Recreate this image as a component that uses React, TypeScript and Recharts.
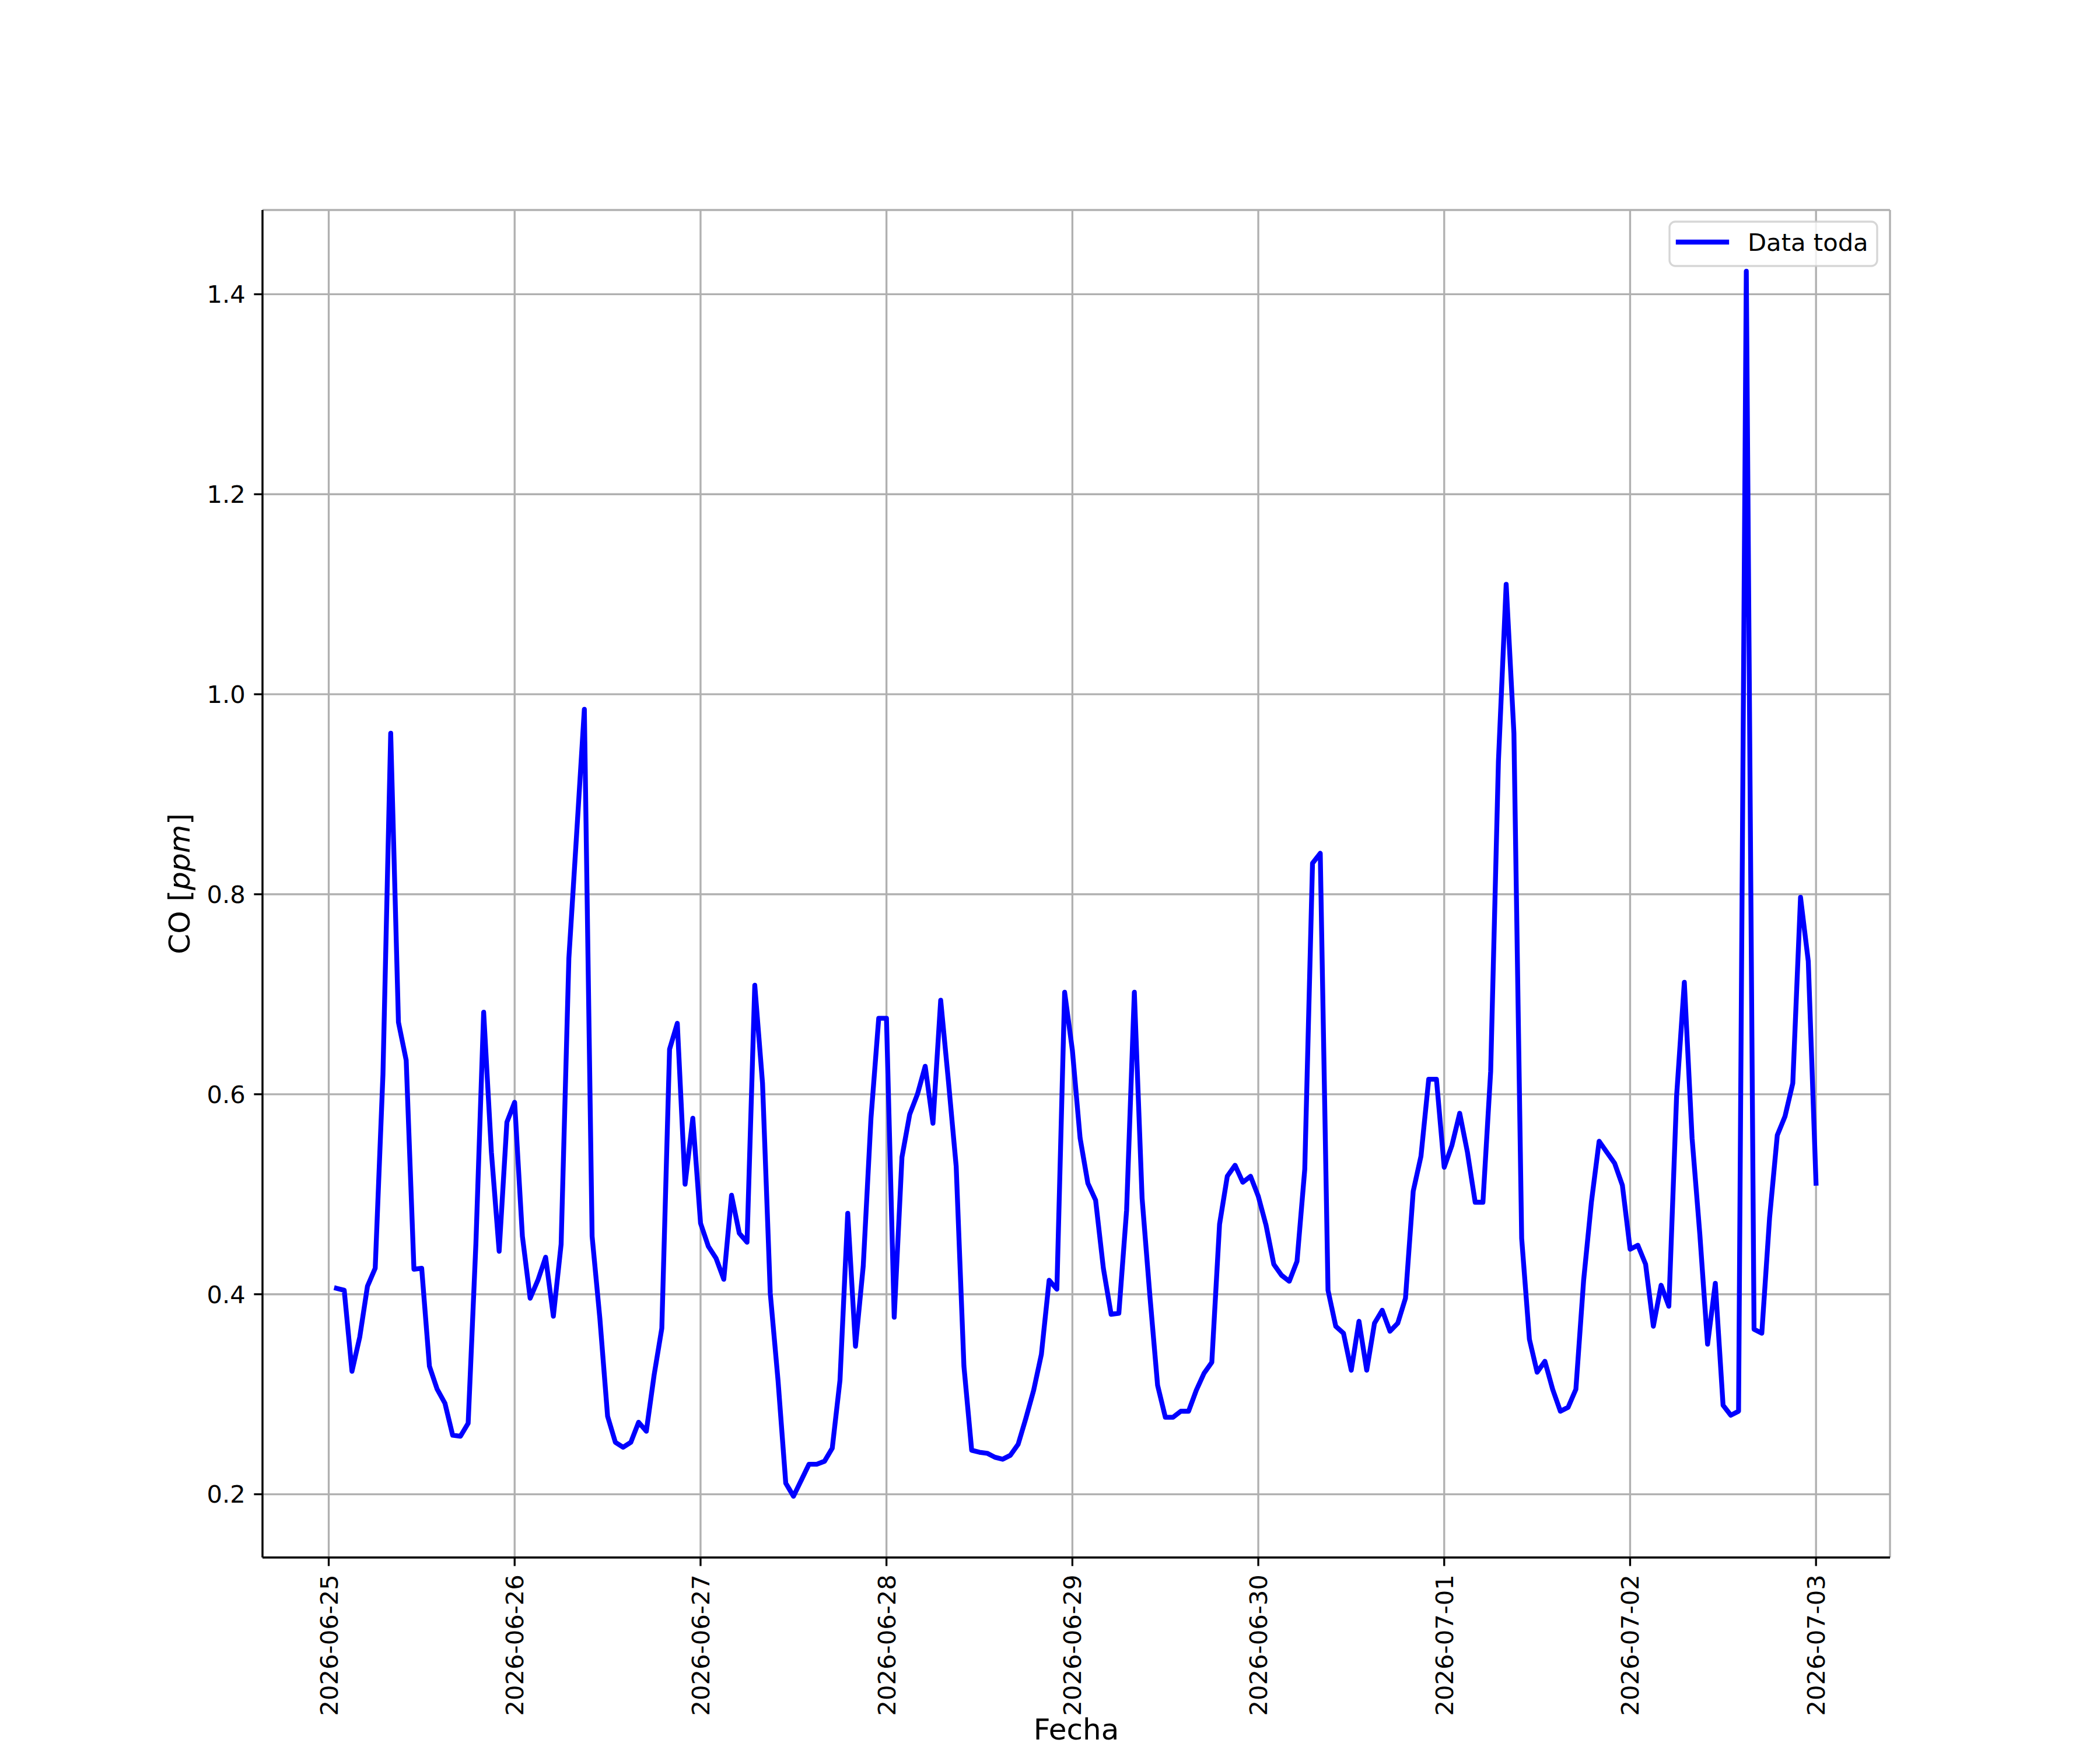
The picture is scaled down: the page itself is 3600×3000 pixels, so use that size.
import React from 'react';
import { LineChart, Line, XAxis, YAxis, CartesianGrid, Legend, Label } from 'recharts';

// hourly CO readings, one array per day (01:00 .. 24:00)
const day0625 = [0.406, 0.404, 0.323, 0.357, 0.408, 0.426, 0.62, 0.961, 0.672, 0.634, 0.425, 0.426, 0.328, 0.305, 0.291, 0.259, 0.258, 0.271, 0.451, 0.682, 0.542, 0.443, 0.572, 0.592];
const day0626 = [0.458, 0.396, 0.414, 0.437, 0.378, 0.45, 0.736, 0.86, 0.985, 0.458, 0.376, 0.278, 0.252, 0.247, 0.252, 0.272, 0.263, 0.319, 0.366, 0.645, 0.671, 0.51, 0.576, 0.471];
const day0627 = [0.448, 0.436, 0.415, 0.499, 0.461, 0.452, 0.709, 0.611, 0.401, 0.314, 0.211, 0.198, 0.214, 0.23, 0.23, 0.233, 0.246, 0.314, 0.481, 0.348, 0.428, 0.576, 0.676, 0.676];
const day0628 = [0.377, 0.537, 0.58, 0.6, 0.628, 0.571, 0.694, 0.613, 0.528, 0.328, 0.244, 0.242, 0.241, 0.237, 0.235, 0.239, 0.25, 0.276, 0.304, 0.34, 0.414, 0.405, 0.702, 0.644];
const day0629 = [0.556, 0.511, 0.494, 0.426, 0.38, 0.381, 0.484, 0.702, 0.496, 0.399, 0.309, 0.277, 0.277, 0.283, 0.283, 0.304, 0.321, 0.332, 0.47, 0.518, 0.529, 0.512, 0.518, 0.498];
const day0630 = [0.469, 0.43, 0.419, 0.413, 0.433, 0.525, 0.831, 0.841, 0.404, 0.368, 0.361, 0.324, 0.373, 0.324, 0.371, 0.384, 0.363, 0.371, 0.396, 0.503, 0.538, 0.615, 0.615, 0.527];
const day0701 = [0.549, 0.581, 0.542, 0.492, 0.492, 0.623, 0.933, 1.11, 0.961, 0.456, 0.355, 0.322, 0.333, 0.305, 0.283, 0.287, 0.305, 0.414, 0.492, 0.553, 0.542, 0.531, 0.509, 0.445];
const day0702 = [0.449, 0.43, 0.368, 0.409, 0.388, 0.598, 0.712, 0.556, 0.46, 0.35, 0.411, 0.289, 0.279, 0.283, 1.423, 0.365, 0.361, 0.476, 0.559, 0.578, 0.611, 0.797, 0.733, 0.511];

const dayLabels = ['2026-06-25', '2026-06-26', '2026-06-27', '2026-06-28', '2026-06-29', '2026-06-30', '2026-07-01', '2026-07-02', '2026-07-03'];
const yTicks = [0.2, 0.4, 0.6, 0.8, 1.0, 1.2, 1.4];

const allDays = [day0625, day0626, day0627, day0628, day0629, day0630, day0701, day0702];
// x = hours since 2026-06-25 00:00
const data = allDays.flat().map((co, i) => ({ h: i + 1, co }));

const FONT = 'DejaVu Sans, sans-serif';
const LW = 8.33;   // 2pt @ 300dpi
const THIN = 3.33; // 0.8pt
const TICK = 14.6; // 3.5pt

// matplotlib-style 5% margins
const hMin = data[0].h, hMax = data[data.length - 1].h;
const xPad = (hMax - hMin) * 0.05;
const vals = data.map(d => d.co);
const vMin = Math.min(...vals), vMax = Math.max(...vals);
const yPad = (vMax - vMin) * 0.05;
const xDomain = [hMin - xPad, hMax + xPad];
const yDomain = [vMin - yPad, vMax + yPad];
const xTicks = dayLabels.map((_, i) => i * 24);

const XTick = (props: any) => {
  const { x, y, payload } = props;
  const label = dayLabels[Math.round(payload.value / 24)];
  return (
    <text x={x} y={y} transform={`rotate(-90, ${x}, ${y})`} textAnchor="end" dy="0.36em"
      fontFamily={FONT} fontSize={41.7} fill="#000">{label}</text>
  );
};

const XLabel = (props: any) => {
  const vb = props.viewBox;
  return (
    <text x={vb.x + vb.width / 2} y={vb.y + 312} textAnchor="middle" fontFamily={FONT} fontSize={50} fill="#000">Fecha</text>
  );
};

const YLabel = (props: any) => {
  const vb = props.viewBox;
  const cx = vb.x - 23;
  const cy = vb.y + vb.height / 2;
  return (
    <text x={cx} y={cy} transform={`rotate(-90, ${cx}, ${cy})`} textAnchor="middle" dy="0.36em"
      fontFamily={FONT} fontSize={50} fill="#000">
      CO [<tspan fontStyle="italic">ppm</tspan>]
    </text>
  );
};

const LegendBox = () => (
  <svg width={362} height={80} style={{ display: 'block' }}>
    <rect x={2} y={2} width={356} height={76} rx={10} ry={10} fill="rgba(255,255,255,0.8)" stroke="rgba(204,204,204,0.8)" strokeWidth={THIN} />
    <line x1={17} y1={37} x2={100} y2={37} stroke="#0000ff" strokeWidth={LW} strokeLinecap="square" />
    <text x={136} y={37} dy="0.36em" fontFamily={FONT} fontSize={41.7} fill="#000">Data toda</text>
  </svg>
);

export default function App() {
  return (
    <div style={{ position: 'absolute', left: 0, top: 0, width: 3600, height: 3000, background: '#fff', overflow: 'hidden' }}>
      <LineChart width={3600} height={3000} data={data} margin={{ top: 360, right: 360, bottom: 30, left: 330 }}>
        <CartesianGrid stroke="#b0b0b0" strokeWidth={THIN} />
        <XAxis dataKey="h" type="number" domain={xDomain} ticks={xTicks} allowDataOverflow interval={0}
          height={300} tick={<XTick />} tickSize={TICK} tickMargin={TICK}
          tickLine={{ stroke: '#000', strokeWidth: THIN }} axisLine={{ stroke: '#000', strokeWidth: THIN }}>
          <Label content={<XLabel />} />
        </XAxis>
        <XAxis xAxisId="top" orientation="top" dataKey="h" type="number" domain={xDomain} allowDataOverflow
          height={0} tick={false} tickLine={false} axisLine={{ stroke: '#000', strokeWidth: THIN }} />
        <YAxis type="number" domain={yDomain} ticks={yTicks} allowDataOverflow interval={0} width={120}
          tickFormatter={(v: number) => v.toFixed(1)} tick={{ fontFamily: FONT, fontSize: 41.7, fill: '#000' }}
          tickSize={TICK} tickMargin={TICK}
          tickLine={{ stroke: '#000', strokeWidth: THIN }} axisLine={{ stroke: '#000', strokeWidth: THIN }}>
          <Label content={<YLabel />} />
        </YAxis>
        <YAxis yAxisId="right" orientation="right" type="number" domain={yDomain} allowDataOverflow
          width={0} tick={false} tickLine={false} axisLine={{ stroke: '#000', strokeWidth: THIN }} />
        <Legend layout="vertical" align="center" verticalAlign="middle" content={<LegendBox />}
          wrapperStyle={{ left: 2860, top: 378, width: 362, height: 80 }} />
        <Line type="linear" dataKey="co" name="Data toda" stroke="#0000ff" strokeWidth={LW} dot={false}
          strokeLinejoin="round" strokeLinecap="square" isAnimationActive={false} />
      </LineChart>
    </div>
  );
}
